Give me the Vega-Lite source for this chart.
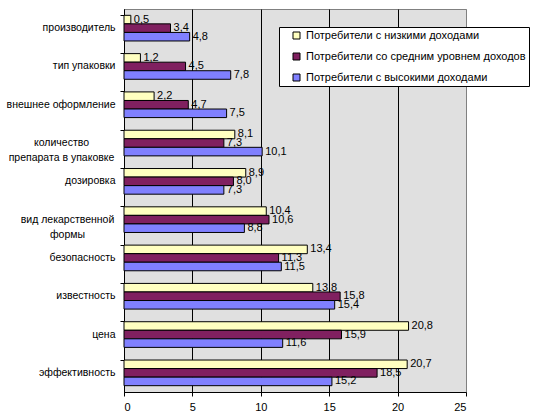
{
  "$schema": "https://vega.github.io/schema/vega-lite/v6.json",
  "width": 342,
  "height": 383,
  "autosize": {"type": "none"},
  "padding": {"left": 124, "top": 9, "right": 68, "bottom": 26},
  "background": "white",
  "config": {
    "font": "Liberation Sans",
    "locale": {"number": {"decimal": ",", "thousands": " ", "grouping": [3], "currency": ["", ""]}},
    "view": {"fill": "#E0E0E0", "stroke": "#808080", "strokeWidth": 1}
  },
  "data": {
    "values": [
      {"category": "производитель", "series": "Потребители с низкими доходами", "value": 0.5},
      {"category": "производитель", "series": "Потребители со средним уровнем доходов", "value": 3.4},
      {"category": "производитель", "series": "Потребители с высокими доходами", "value": 4.8},
      {"category": "тип упаковки", "series": "Потребители с низкими доходами", "value": 1.2},
      {"category": "тип упаковки", "series": "Потребители со средним уровнем доходов", "value": 4.5},
      {"category": "тип упаковки", "series": "Потребители с высокими доходами", "value": 7.8},
      {"category": "внешнее оформление", "series": "Потребители с низкими доходами", "value": 2.2},
      {"category": "внешнее оформление", "series": "Потребители со средним уровнем доходов", "value": 4.7},
      {"category": "внешнее оформление", "series": "Потребители с высокими доходами", "value": 7.5},
      {"category": "количество препарата в упаковке", "series": "Потребители с низкими доходами", "value": 8.1},
      {"category": "количество препарата в упаковке", "series": "Потребители со средним уровнем доходов", "value": 7.3},
      {"category": "количество препарата в упаковке", "series": "Потребители с высокими доходами", "value": 10.1},
      {"category": "дозировка", "series": "Потребители с низкими доходами", "value": 8.9},
      {"category": "дозировка", "series": "Потребители со средним уровнем доходов", "value": 8.0},
      {"category": "дозировка", "series": "Потребители с высокими доходами", "value": 7.3},
      {"category": "вид лекарственной формы", "series": "Потребители с низкими доходами", "value": 10.4},
      {"category": "вид лекарственной формы", "series": "Потребители со средним уровнем доходов", "value": 10.6},
      {"category": "вид лекарственной формы", "series": "Потребители с высокими доходами", "value": 8.8},
      {"category": "безопасность", "series": "Потребители с низкими доходами", "value": 13.4},
      {"category": "безопасность", "series": "Потребители со средним уровнем доходов", "value": 11.3},
      {"category": "безопасность", "series": "Потребители с высокими доходами", "value": 11.5},
      {"category": "известность", "series": "Потребители с низкими доходами", "value": 13.8},
      {"category": "известность", "series": "Потребители со средним уровнем доходов", "value": 15.8},
      {"category": "известность", "series": "Потребители с высокими доходами", "value": 15.4},
      {"category": "цена", "series": "Потребители с низкими доходами", "value": 20.8},
      {"category": "цена", "series": "Потребители со средним уровнем доходов", "value": 15.9},
      {"category": "цена", "series": "Потребители с высокими доходами", "value": 11.6},
      {"category": "эффективность", "series": "Потребители с низкими доходами", "value": 20.7},
      {"category": "эффективность", "series": "Потребители со средним уровнем доходов", "value": 18.5},
      {"category": "эффективность", "series": "Потребители с высокими доходами", "value": 15.2}
    ]
  },
  "encoding": {
    "y": {
      "field": "category",
      "type": "nominal",
      "sort": ["производитель", "тип упаковки", "внешнее оформление", "количество препарата в упаковке", "дозировка", "вид лекарственной формы", "безопасность", "известность", "цена", "эффективность"],
      "scale": {"paddingInner": 0.33, "paddingOuter": 0.165},
      "axis": {
        "title": null,
        "domainColor": "black",
        "tickColor": "black",
        "tickSize": 4,
        "bandPosition": 0,
        "labelAlign": {"condition": {"test": "datum.value == 'количество препарата в упаковке' || datum.value == 'вид лекарственной формы'", "value": "center"}, "value": "right"},
        "labelPadding": {"condition": [{"test": "datum.value == 'количество препарата в упаковке'", "value": 59}, {"test": "datum.value == 'вид лекарственной формы'", "value": 53}], "value": 5},
        "labelFontSize": 10.5,
        "labelColor": "black",
        "labelLineHeight": 15,
        "labelLimit": 200,
        "grid": false,
        "labelExpr": "datum.value == 'количество препарата в упаковке' ? ['количество', 'препарата в упаковке'] : datum.value == 'вид лекарственной формы' ? ['вид лекарственной', 'формы'] : datum.label"
      }
    },
    "yOffset": {
      "field": "series",
      "type": "nominal",
      "sort": ["Потребители с низкими доходами", "Потребители со средним уровнем доходов", "Потребители с высокими доходами"],
      "scale": {"paddingInner": 0, "paddingOuter": 0}
    },
    "x": {
      "field": "value",
      "type": "quantitative",
      "scale": {"domain": [0, 25], "nice": false},
      "axis": {
        "title": null,
        "values": [0, 5, 10, 15, 20, 25],
        "format": "d",
        "grid": true,
        "gridColor": {"condition": {"test": "datum.value == 25", "value": "#808080"}, "value": "black"},
        "gridOpacity": 1,
        "gridWidth": 1,
        "domainColor": "black",
        "tickColor": "black",
        "tickSize": 4,
        "labelPadding": 5,
        "labelFontSize": 11,
        "labelColor": "black"
      }
    }
  },
  "layer": [
    {
      "mark": {"type": "bar", "stroke": "black", "strokeWidth": 1},
      "encoding": {
        "color": {
          "field": "series",
          "type": "nominal",
          "scale": {
            "domain": ["Потребители с низкими доходами", "Потребители со средним уровнем доходов", "Потребители с высокими доходами"],
            "range": ["#FFFFC0", "#802060", "#8080FF"]
          },
          "legend": {
            "orient": "none",
            "legendX": 155,
            "legendY": 18,
            "title": null,
            "direction": "vertical",
            "strokeColor": "black",
            "fillColor": "white",
            "padding": 3,
            "symbolType": "square",
            "symbolSize": 49,
            "symbolStrokeColor": "black",
            "symbolStrokeWidth": 1,
            "symbolOpacity": 1,
            "symbolOffset": 9,
            "labelOffset": 4,
            "labelFontSize": 11,
            "labelColor": "black",
            "labelLimit": 300,
            "rowPadding": 9
          }
        }
      }
    },
    {
      "mark": {"type": "text", "align": "left", "baseline": "middle", "dx": 3, "fontSize": 11, "color": "black"},
      "encoding": {
        "text": {"field": "value", "type": "quantitative", "format": ".1f"}
      }
    }
  ]
}
